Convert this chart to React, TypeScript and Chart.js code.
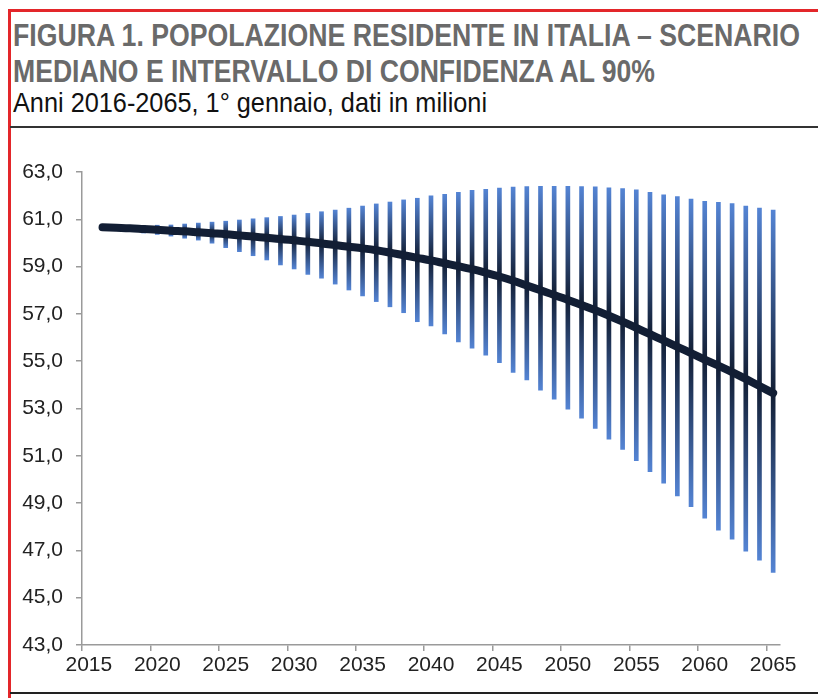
import React, { useEffect, useLayoutEffect, useRef, useState } from "react";
import { Chart, registerables } from "chart.js";

Chart.register(...registerables);

const years = [
  2015, 2016, 2017, 2018, 2019, 2020, 2021, 2022, 2023, 2024, 2025, 2026, 2027,
  2028, 2029, 2030, 2031, 2032, 2033, 2034, 2035, 2036, 2037, 2038, 2039, 2040,
  2041, 2042, 2043, 2044, 2045, 2046, 2047, 2048, 2049, 2050, 2051, 2052, 2053,
  2054, 2055, 2056, 2057, 2058, 2059, 2060, 2061, 2062, 2063, 2064, 2065,
];

const median = [
  null, 60.66, 60.64, 60.62, 60.59, 60.56, 60.52, 60.49, 60.45, 60.41, 60.37,
  60.32, 60.27, 60.22, 60.17, 60.11, 60.05, 59.98, 59.91, 59.84, 59.77, 59.69,
  59.59, 59.48, 59.37, 59.26, 59.14, 59.02, 58.89, 58.74, 58.58, 58.4, 58.2,
  58.0, 57.8, 57.59, 57.38, 57.16, 56.92, 56.67, 56.41, 56.14, 55.88, 55.61,
  55.34, 55.07, 54.81, 54.54, 54.25, 53.95, 53.65,
];

const lower90 = [
  null, 60.62, 60.55, 60.48, 60.42, 60.36, 60.29, 60.2, 60.12, 59.99, 59.8,
  59.63, 59.46, 59.28, 59.07, 58.9, 58.67, 58.51, 58.26, 58.01, 57.76, 57.52,
  57.3, 57.05, 56.67, 56.49, 56.15, 55.82, 55.55, 55.26, 54.94, 54.53, 54.21,
  53.78, 53.39, 52.97, 52.59, 52.16, 51.7, 51.27, 50.79, 50.33, 49.84, 49.3,
  48.85, 48.36, 47.86, 47.47, 46.97, 46.59, 46.07,
];

const upper90 = [
  null, 60.7, 60.72, 60.73, 60.74, 60.75, 60.76, 60.8, 60.84, 60.88, 60.92,
  60.97, 61.02, 61.07, 61.12, 61.18, 61.25, 61.32, 61.39, 61.47, 61.56, 61.65,
  61.73, 61.82, 61.89, 61.99, 62.06, 62.14, 62.22, 62.27, 62.32, 62.36, 62.38,
  62.39, 62.39, 62.39, 62.38, 62.37, 62.33, 62.3, 62.25, 62.14, 62.03, 61.96,
  61.85, 61.76, 61.72, 61.66, 61.56, 61.47, 61.39,
];

const yTicks = [43, 45, 47, 49, 51, 53, 55, 57, 59, 61, 63];

const BLUE = "rgb(84,132,212)";
const DARK = "rgb(18,30,52)";
const AXIS = "#9a9a9a";
const FONT = "'Liberation Sans', Arial, sans-serif";

function FitText(props: {
  text: string;
  left: number;
  top: number;
  width: number;
  style: React.CSSProperties;
}) {
  const ref = useRef<HTMLSpanElement>(null);
  const [scale, setScale] = useState(1);
  useLayoutEffect(() => {
    if (ref.current) {
      const w = ref.current.getBoundingClientRect().width;
      if (w > 0) setScale(props.width / w);
    }
  }, [props.text, props.width]);
  return (
    <div
      style={{
        position: "absolute",
        left: props.left,
        top: props.top,
        whiteSpace: "nowrap",
        transformOrigin: "0 0",
        transform: `scaleX(${scale})`,
      }}
    >
      <span ref={ref} style={props.style}>
        {props.text}
      </span>
    </div>
  );
}

export default function App() {
  const canvasRef = useRef<HTMLCanvasElement>(null);

  useEffect(() => {
    if (!canvasRef.current) return;
    const bars = years.map((_, i) =>
      lower90[i] == null ? null : [lower90[i], upper90[i]]
    );
    const chart = new Chart(canvasRef.current, {
      data: {
        labels: years.map(String),
        datasets: [
          {
            type: "line",
            label: "Mediano",
            data: median,
            borderColor: DARK,
            borderWidth: 8,
            pointRadius: 0,
            tension: 0.4,
            borderCapStyle: "round",
            order: 0,
          } as any,
          {
            type: "bar",
            label: "Intervallo 90%",
            data: bars,
            barThickness: 4,
            order: 1,
            backgroundColor: (ctx: any) => {
              const c = ctx.chart;
              const ys = c.scales && c.scales.y;
              if (!ys || ctx.type !== "data") return BLUE;
              const i = ctx.dataIndex;
              const hi = upper90[i];
              const lo = lower90[i];
              const m = median[i];
              if (hi == null || lo == null || m == null) return BLUE;
              const yh = ys.getPixelForValue(hi);
              const yl = ys.getPixelForValue(lo);
              if (!isFinite(yh) || !isFinite(yl) || yl - yh < 1) return DARK;
              let t = (ys.getPixelForValue(m) - yh) / (yl - yh);
              t = Math.min(0.98, Math.max(0.02, t));
              const g = c.ctx.createLinearGradient(0, yh, 0, yl);
              g.addColorStop(0, BLUE);
              g.addColorStop(t, DARK);
              g.addColorStop(1, BLUE);
              return g;
            },
          } as any,
        ],
      },
      options: {
        animation: false,
        responsive: false,
        maintainAspectRatio: false,
        layout: { padding: { top: 32, right: 38, left: 0, bottom: 0 } },
        plugins: {
          legend: { display: false },
          tooltip: { enabled: false },
          title: { display: false },
        },
        scales: {
          x: {
            type: "category",
            offset: true,
            grid: {
              offset: true,
              drawOnChartArea: false,
              tickLength: 6,
              lineWidth: 1.5,
              color: (ctx: any) =>
                ctx.index % 5 === 0 && ctx.index < years.length
                  ? AXIS
                  : "rgba(0,0,0,0)",
            },
            border: { color: AXIS, width: 1.5 },
            ticks: {
              autoSkip: false,
              maxRotation: 0,
              minRotation: 0,
              padding: 2,
              color: "#222",
              font: { family: FONT, size: 21 },
              callback: (_v: any, i: number) =>
                years[i] % 5 === 0 ? String(years[i]) : "",
            },
            afterFit: (s: any) => {
              s.height = 45;
            },
          },
          y: {
            type: "linear",
            min: 43,
            max: 63,
            afterBuildTicks: (s: any) => {
              s.ticks = yTicks.map((v) => ({ value: v }));
            },
            grid: {
              drawOnChartArea: false,
              tickLength: 6,
              lineWidth: 1.5,
              color: AXIS,
            },
            border: { color: AXIS, width: 1.5 },
            ticks: {
              padding: 13,
              color: "#222",
              font: { family: FONT, size: 21 },
              callback: (v: any) => Number(v).toFixed(1).replace(".", ","),
            },
            afterFit: (s: any) => {
              s.width = 72;
            },
          },
        },
      },
    });
    return () => chart.destroy();
  }, []);

  const titleStyle: React.CSSProperties = {
    fontFamily: FONT,
    fontWeight: "bold",
    fontSize: 31,
    lineHeight: "31px",
    color: "#6a6a6a",
  };

  return (
    <div
      style={{
        position: "fixed",
        left: 0,
        top: 0,
        width: 818,
        height: 698,
        overflow: "hidden",
        background: "#fff",
      }}
    >
      <div style={{ position: "absolute", left: 8, top: 9, width: 810, height: 3, background: "#e3262a" }} />
      <div style={{ position: "absolute", left: 8, top: 9, width: 2.5, height: 689, background: "#e3262a" }} />
      <FitText
        text="FIGURA 1. POPOLAZIONE RESIDENTE IN ITALIA – SCENARIO"
        left={13}
        top={20}
        width={787}
        style={titleStyle}
      />
      <FitText
        text="MEDIANO E INTERVALLO DI CONFIDENZA AL 90%"
        left={13}
        top={56}
        width={642}
        style={titleStyle}
      />
      <FitText
        text="Anni 2016-2065, 1° gennaio, dati in milioni"
        left={13}
        top={89}
        width={474}
        style={{
          fontFamily: FONT,
          fontSize: 28,
          lineHeight: "28px",
          color: "#111",
        }}
      />
      <div style={{ position: "absolute", left: 10, top: 126, width: 808, height: 2, background: "#333" }} />
      <div style={{ position: "absolute", left: 10, top: 692, width: 808, height: 2, background: "#222" }} />
      <canvas
        ref={canvasRef}
        width={808}
        height={550}
        style={{ position: "absolute", left: 10, top: 140, width: 808, height: 550 }}
      />
    </div>
  );
}
